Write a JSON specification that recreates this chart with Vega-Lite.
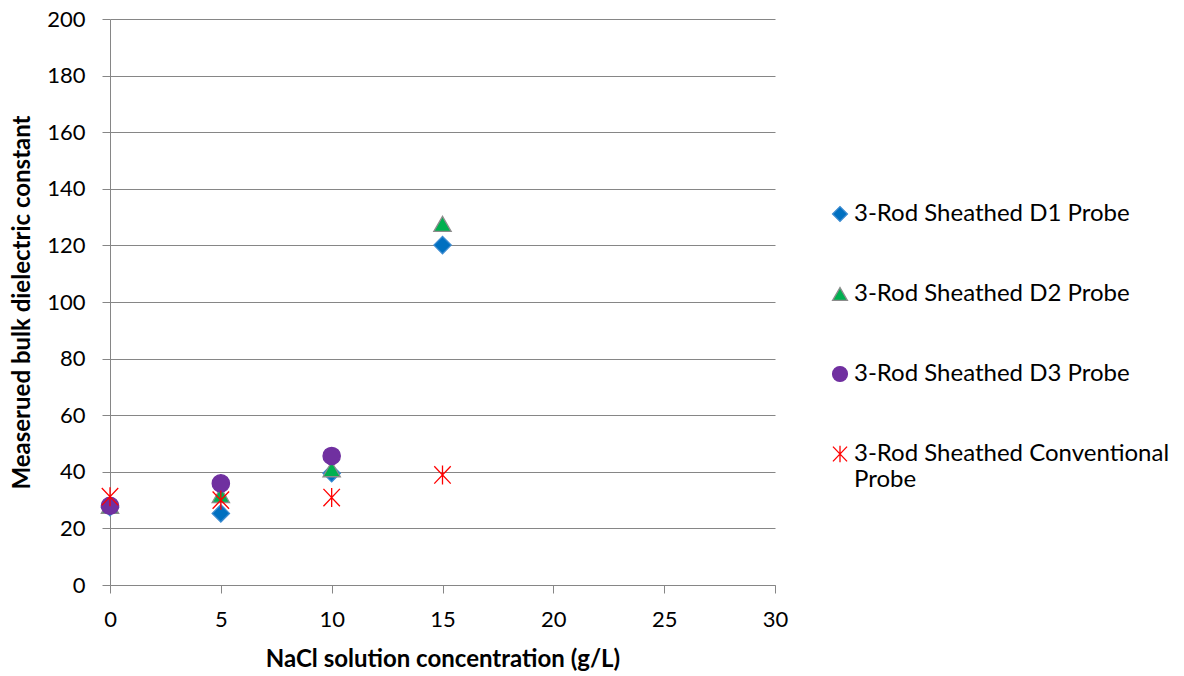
{
  "$schema": "https://vega.github.io/schema/vega-lite/v6.json",
  "width": 665,
  "height": 566,
  "autosize": {"type": "none"},
  "padding": {"left": 110, "top": 19, "right": 409, "bottom": 91},
  "background": "white",
  "config": {"view": {"stroke": null}, "font": "Lato"},
  "data": {
    "values": [
      {"conc": 0, "value": 27.5, "probe": "3-Rod Sheathed D1 Probe"},
      {"conc": 5, "value": 25.3, "probe": "3-Rod Sheathed D1 Probe"},
      {"conc": 10, "value": 39.5, "probe": "3-Rod Sheathed D1 Probe"},
      {"conc": 15, "value": 120.1, "probe": "3-Rod Sheathed D1 Probe"},
      {"conc": 0, "value": 28, "probe": "3-Rod Sheathed D2 Probe"},
      {"conc": 5, "value": 31.8, "probe": "3-Rod Sheathed D2 Probe"},
      {"conc": 10, "value": 40.9, "probe": "3-Rod Sheathed D2 Probe"},
      {"conc": 15, "value": 127.6, "probe": "3-Rod Sheathed D2 Probe"},
      {"conc": 0, "value": 28, "probe": "3-Rod Sheathed D3 Probe"},
      {"conc": 5, "value": 35.9, "probe": "3-Rod Sheathed D3 Probe"},
      {"conc": 10, "value": 45.6, "probe": "3-Rod Sheathed D3 Probe"},
      {"conc": 0, "value": 31.2, "probe": "3-Rod Sheathed Conventional Probe"},
      {"conc": 5, "value": 30, "probe": "3-Rod Sheathed Conventional Probe"},
      {"conc": 10, "value": 30.9, "probe": "3-Rod Sheathed Conventional Probe"},
      {"conc": 15, "value": 38.9, "probe": "3-Rod Sheathed Conventional Probe"}
    ]
  },
  "mark": {"type": "point", "filled": true, "opacity": 1, "size": 300, "strokeWidth": 1.3},
  "encoding": {
    "x": {
      "field": "conc", "type": "quantitative",
      "scale": {"domain": [0, 30], "nice": false, "zero": true},
      "axis": {
        "title": "NaCl solution concentration (g/L)",
        "values": [0, 5, 10, 15, 20, 25, 30],
        "grid": false, "labelFlush": false,
        "domainColor": "#868686", "tickColor": "#868686", "tickSize": 8,
        "labelFontSize": 22, "labelColor": "#000000", "labelPadding": 16,
        "titleFontSize": 24, "titleFontWeight": "bold", "titleColor": "#000000", "titlePadding": 17
      }
    },
    "y": {
      "field": "value", "type": "quantitative",
      "scale": {"domain": [0, 200], "nice": false},
      "axis": {
        "title": "Measerued bulk dielectric constant",
        "values": [0, 20, 40, 60, 80, 100, 120, 140, 160, 180, 200],
        "grid": true, "gridColor": "#868686", "gridWidth": 1, "labelFlush": false,
        "domainColor": "#868686", "tickColor": "#868686", "tickSize": 8,
        "labelFontSize": 22, "labelColor": "#000000", "labelPadding": 17,
        "titleFontSize": 24, "titleFontWeight": "bold", "titleColor": "#000000", "titlePadding": 12
      }
    },
    "color": {
      "field": "probe", "type": "nominal",
      "sort": ["3-Rod Sheathed D1 Probe", "3-Rod Sheathed D2 Probe", "3-Rod Sheathed D3 Probe", "3-Rod Sheathed Conventional Probe"],
      "scale": {
        "domain": ["3-Rod Sheathed D1 Probe", "3-Rod Sheathed D2 Probe", "3-Rod Sheathed D3 Probe", "3-Rod Sheathed Conventional Probe"],
        "range": ["#0070C0", "#00B050", "#7030A0", "#FF0000"]
      },
      "legend": {
        "title": null,
        "orient": "none", "legendX": 718, "legendY": 183,
        "labelFontSize": 24, "labelColor": "#000000", "labelLimit": 400,
        "rowPadding": 56, "symbolSize": 220, "symbolStrokeWidth": 1.3,
        "labelExpr": "datum.label == '3-Rod Sheathed Conventional Probe' ? ['3-Rod Sheathed Conventional', 'Probe'] : datum.label",
        "labelBaseline": "middle", "labelOffset": 2,
        "labelLineHeight": 34
      }
    },
    "stroke": {
      "field": "probe", "type": "nominal",
      "scale": {
        "domain": ["3-Rod Sheathed D1 Probe", "3-Rod Sheathed D2 Probe", "3-Rod Sheathed D3 Probe", "3-Rod Sheathed Conventional Probe"],
        "range": ["#3a8ad0", "#8c8c8c", "#7030A0", "#FF0000"]
      },
      "legend": null
    },
    "shape": {
      "field": "probe", "type": "nominal",
      "scale": {
        "domain": ["3-Rod Sheathed D1 Probe", "3-Rod Sheathed D2 Probe", "3-Rod Sheathed D3 Probe", "3-Rod Sheathed Conventional Probe"],
        "range": ["diamond", "triangle-up", "circle", "M-0.95,-1L0.95,1M-0.95,1L0.95,-1M0,-1.1L0,1.1"]
      },
      "legend": null
    }
  }
}
